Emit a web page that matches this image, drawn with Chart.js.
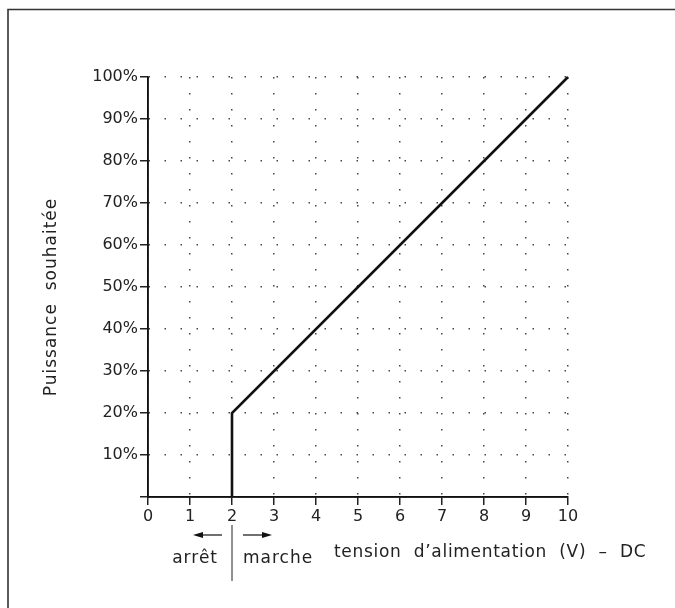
<!DOCTYPE html>
<html>
<head>
<meta charset="utf-8">
<script src="https://cdn.jsdelivr.net/npm/chart.js@4"></script>
<style>
  html, body { margin: 0; padding: 0; background: #fff; }
  #wrap { width: 675px; height: 608px; position: relative; }
</style>
</head>
<body>
<div id="wrap"><canvas id="puissanceChart"></canvas></div>
<script>
// tension (V) -> puissance (%)
const tensions = [2, 2, 10];
const puissances = [0, 20, 100];
const xTicks = [0, 1, 2, 3, 4, 5, 6, 7, 8, 9, 10];
const yTicks = [0, 10, 20, 30, 40, 50, 60, 70, 80, 90, 100];
const seuil = 2; // arrêt / marche

const titreY = 'Puissance  souhaitée';
const titreX = 'tension  d\u2019alimentation  (V)  \u2013  DC';

const police = '"DejaVu Sans", sans-serif';

function fleche(ctx, x1, x2, y) {
  const dir = x2 > x1 ? 1 : -1;
  ctx.beginPath();
  ctx.moveTo(x1, y);
  ctx.lineTo(x2 - dir * 9, y);
  ctx.stroke();
  ctx.beginPath();
  ctx.moveTo(x2, y);
  ctx.lineTo(x2 - dir * 10, y - 3);
  ctx.lineTo(x2 - dir * 10, y + 3);
  ctx.closePath();
  ctx.fill();
}

const annotations = {
  id: 'annotations',
  afterDraw(chart) {
    const ctx = chart.ctx;
    const xs = chart.scales.x;
    const ys = chart.scales.y;
    const xSeuil = xs.getPixelForValue(seuil);
    ctx.save();
    // cadre
    ctx.strokeStyle = '#333';
    ctx.lineWidth = 1.6;
    ctx.beginPath();
    ctx.moveTo(8, 700);
    ctx.lineTo(8, 9.5);
    ctx.lineTo(700, 9.5);
    ctx.stroke();

    // axes pleins
    ctx.strokeStyle = '#111';
    ctx.lineWidth = 1.5;
    ctx.beginPath();
    ctx.moveTo(xs.left, ys.top);
    ctx.lineTo(xs.left, ys.bottom);
    ctx.lineTo(xs.right, ys.bottom);
    ctx.stroke();

    // séparation arrêt / marche
    ctx.strokeStyle = '#222';
    ctx.fillStyle = '#111';
    ctx.lineWidth = 1;
    ctx.beginPath();
    ctx.moveTo(xSeuil, 525);
    ctx.lineTo(xSeuil, 581);
    ctx.stroke();
    ctx.lineWidth = 1.3;
    fleche(ctx, xSeuil - 10, xSeuil - 39, 535);
    fleche(ctx, xSeuil + 11, xSeuil + 40, 535);

    ctx.font = '17px ' + police;
    ctx.fillStyle = '#222';
    ctx.letterSpacing = '1px';
    ctx.textBaseline = 'alphabetic';
    ctx.textAlign = 'right';
    ctx.fillText('arrêt', xSeuil - 14, 563);
    ctx.textAlign = 'left';
    ctx.fillText('marche', xSeuil + 11, 563);

    // titre vertical
    ctx.save();
    ctx.translate(56, 297);
    ctx.rotate(-Math.PI / 2);
    ctx.textAlign = 'center';
    ctx.fillText(titreY, 0, 0);
    ctx.restore();

    ctx.letterSpacing = '0.7px';
    ctx.textAlign = 'left';
    ctx.fillText(titreX, 334, 557);
    ctx.restore();
  }
};

const grille = {
  color: '#444',
  lineWidth: 1.5,
  tickColor: '#222',
  tickLength: 8,
  tickBorderDash: []
};

new Chart(document.getElementById('puissanceChart'), {
  type: 'scatter',
  data: {
    datasets: [{
      data: tensions.map((t, i) => ({ x: t, y: puissances[i] })),
      showLine: true,
      borderColor: '#111',
      borderWidth: 2.6,
      pointRadius: 0,
      fill: false,
      clip: 4
    }]
  },
  plugins: [annotations],
  options: {
    responsive: true,
    maintainAspectRatio: false,
    animation: false,
    layout: { padding: { left: 30, top: 77, right: 107, bottom: 0 } },
    plugins: { legend: { display: false }, tooltip: { enabled: false } },
    scales: {
      x: {
        type: 'linear',
        min: 0,
        max: 10,
        afterBuildTicks: s => { s.ticks = xTicks.map(v => ({ value: v })); },
        afterFit: s => { s.height = 111; },
        border: { color: '#111', width: 1.5, dash: [1.5, 14.5] },
        grid: grille,
        ticks: { color: '#222', font: { family: police, size: 16 }, padding: 2, maxRotation: 0 }
      },
      y: {
        min: 0,
        max: 100,
        afterBuildTicks: s => { s.ticks = yTicks.map(v => ({ value: v })); },
        afterFit: s => { s.width = 118; },
        border: { color: '#111', width: 1.5, dash: [1.5, 14.5] },
        grid: grille,
        ticks: {
          color: '#222',
          font: { family: police, size: 16 },
          padding: 2,
          callback: v => v === 0 ? '' : v + '%'
        }
      }
    }
  }
});
</script>
</body>
</html>
